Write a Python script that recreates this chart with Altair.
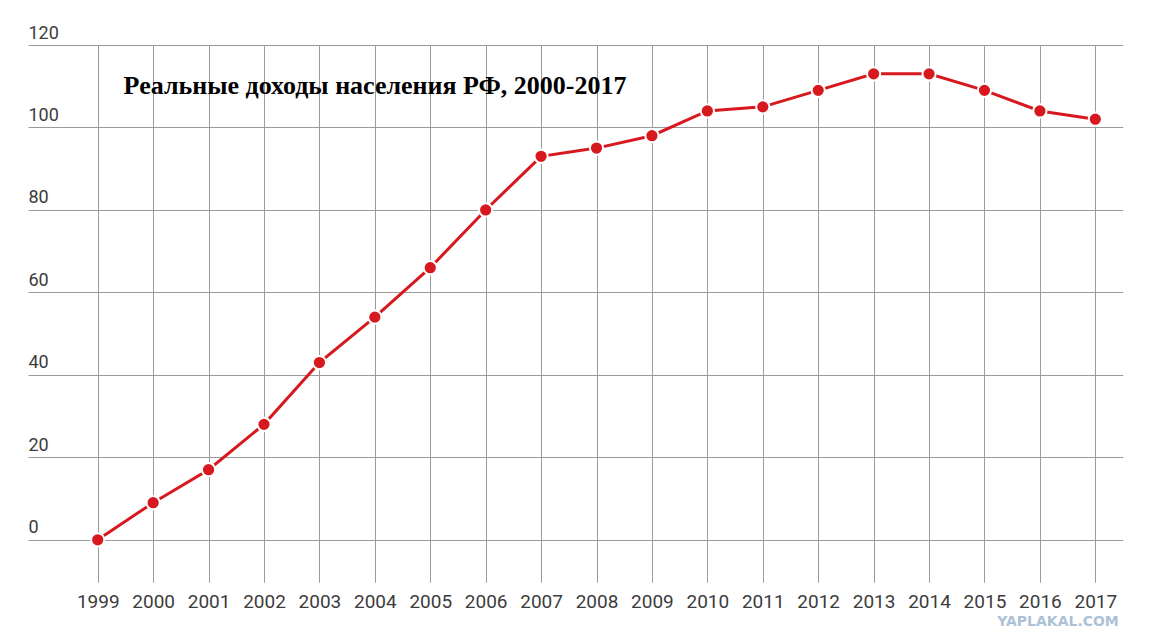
import altair as alt
import pandas as pd

years = list(range(1999, 2018))
values = [0, 9, 17, 28, 43, 54, 66, 80, 93, 95, 98, 104, 105, 109, 113, 113, 109, 104, 102]
title_text = ["Реальные доходы населения РФ, 2000-2017"]
watermark_text = ["YAPLAKAL.COM"]
y_ticks = [0, 20, 40, 60, 80, 100, 120]

df = pd.DataFrame({"year": years, "value": values})

RED = "#d7191f"
GRID = "#9a9a9a"
LABEL = "#3c3c3c"

x = alt.X(
    "year:Q",
    scale=alt.Scale(domain=[1997.742, 2017.494], nice=False, zero=False),
    axis=alt.Axis(
        values=years, format="d", title=None, grid=True, gridColor=GRID, gridWidth=1,
        domain=False, ticks=False, tickSize=0, labelFont="Roboto", labelFontSize=19,
        labelColor=LABEL, labelBaseline="alphabetic", labelPadding=25, labelFlush=False,
    ),
)
y = alt.Y(
    "value:Q",
    scale=alt.Scale(domain=[-10.3, 120], nice=False, zero=False),
    axis=alt.Axis(
        values=y_ticks, title=None, grid=True, gridColor=GRID, gridWidth=1,
        domain=False, ticks=False, tickSize=0, labelFont="Roboto", labelFontSize=18,
        labelColor=LABEL, labelAlign="left", labelBaseline="alphabetic",
        labelPadding=0, labelOffset=-7, labelFlush=False,
    ),
)

base = alt.Chart(df)
line = base.mark_line(color=RED, strokeWidth=3).encode(x=x, y=y)
points = base.mark_point(
    filled=True, fill=RED, stroke="white", strokeWidth=2, size=175, opacity=1, shape="circle"
).encode(x=x, y=y)

title = alt.Chart(pd.DataFrame({"t": title_text})).mark_text(
    align="left", baseline="alphabetic", font="Liberation Serif", fontWeight="bold",
    fontSize=26, color="#000000",
).encode(x=alt.value(95.6), y=alt.value(49.3), text="t:N")

wm = alt.Chart(pd.DataFrame({"t": watermark_text})).mark_text(
    align="center", baseline="alphabetic", font="DejaVu Sans", fontWeight="bold",
    fontSize=14, color="#9db7cf", opacity=0.85,
).encode(x=alt.value(1030), y=alt.value(581), text="t:N")

chart = alt.layer(line, points, title, wm).properties(
    width=1094.7, height=537.3,
    autosize=alt.AutoSizeParams(type="none"),
    padding={"left": 20, "top": 37, "right": 20, "bottom": 50},
    background="white",
).configure_view(stroke=None)

chart.save("out.html", embed_options={"renderer": "svg", "actions": False})
